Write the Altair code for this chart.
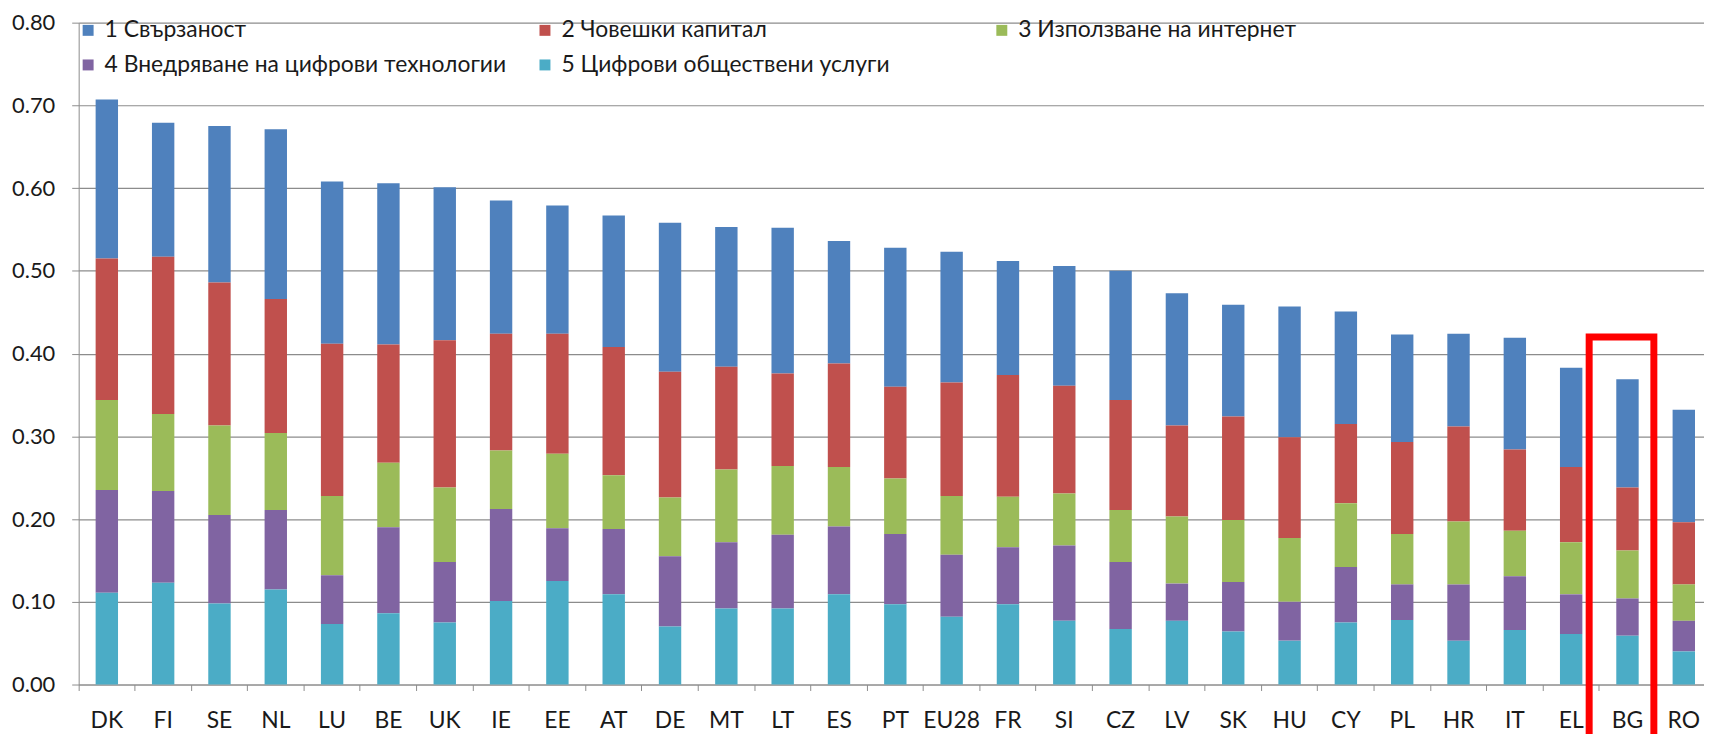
import altair as alt
import pandas as pd

countries = ["DK", "FI", "SE", "NL", "LU", "BE", "UK", "IE", "EE", "AT", "DE", "MT", "LT", "ES",
             "PT", "EU28", "FR", "SI", "CZ", "LV", "SK", "HU", "CY", "PL", "HR", "IT", "EL", "BG", "RO"]

series_names = ["1 Свързаност", "2 Човешки капитал", "3 Използване на интернет",
                "4 Внедряване на цифрови технологии", "5 Цифрови обществени услуги"]

connectivity = [0.192, 0.162, 0.189, 0.205, 0.196, 0.195, 0.185, 0.161, 0.155, 0.159, 0.180, 0.169, 0.176, 0.148,
                0.168, 0.158, 0.138, 0.145, 0.156, 0.160, 0.135, 0.158, 0.136, 0.130, 0.112, 0.135, 0.120, 0.131, 0.136]
human_capital = [0.171, 0.190, 0.173, 0.162, 0.184, 0.143, 0.178, 0.141, 0.145, 0.155, 0.152, 0.124, 0.112, 0.125,
                 0.111, 0.137, 0.147, 0.130, 0.133, 0.110, 0.125, 0.122, 0.096, 0.111, 0.115, 0.098, 0.091, 0.076, 0.075]
internet_use = [0.109, 0.093, 0.108, 0.093, 0.096, 0.078, 0.090, 0.071, 0.090, 0.065, 0.071, 0.088, 0.083, 0.072,
                0.067, 0.071, 0.061, 0.063, 0.063, 0.081, 0.075, 0.077, 0.077, 0.061, 0.076, 0.055, 0.063, 0.058, 0.044]
digital_tech = [0.124, 0.111, 0.107, 0.096, 0.059, 0.104, 0.073, 0.111, 0.064, 0.079, 0.085, 0.080, 0.089, 0.082,
                0.085, 0.075, 0.069, 0.091, 0.081, 0.045, 0.060, 0.047, 0.067, 0.043, 0.068, 0.065, 0.048, 0.045, 0.037]
public_services = [0.111, 0.123, 0.098, 0.115, 0.073, 0.086, 0.075, 0.101, 0.125, 0.109, 0.070, 0.092, 0.092, 0.109,
                   0.097, 0.082, 0.097, 0.077, 0.067, 0.077, 0.064, 0.053, 0.075, 0.078, 0.053, 0.066, 0.061, 0.059, 0.040]

series_colors = ["#4F81BD", "#C0504D", "#9BBB59", "#8064A2", "#4BACC6"]
y_tick_values = [0.0, 0.1, 0.2, 0.3, 0.4, 0.5, 0.6, 0.7, 0.8]

highlight_country = ["BG"]
highlight_top = [0.42]
highlight_bottom = [-0.075]

rows = []
for rank, (name, vals) in enumerate(zip(series_names,
                                         [connectivity, human_capital, internet_use, digital_tech, public_services]),
                                     start=1):
    for c, v in zip(countries, vals):
        rows.append({"country": c, "series": name, "rank": rank, "value": v})
df = pd.DataFrame(rows)
box_df = pd.DataFrame({"country": highlight_country, "top": highlight_top, "bottom": highlight_bottom})

FONT = "Lato"
TXT = "#1a1a1a"
GRAY = "#8c8c8c"

x_scale = alt.Scale(domain=countries, range=[0, 1641], paddingInner=0, paddingOuter=0)
y_scale = alt.Scale(domain=[0, 0.8], nice=False)

x_axis = alt.Axis(title=None, labelAngle=0, bandPosition=0, tickSize=6,
                  tickColor=GRAY, domainColor=GRAY, labelFont=FONT, labelFontSize=23,
                  labelColor=TXT, labelPadding=19, labelOverlap=False)
y_axis = alt.Axis(title=None, values=y_tick_values, format=".2f", grid=True, gridColor=GRAY,
                  gridWidth=1.2, tickSize=7, tickColor=GRAY, domainColor=GRAY, labelFont=FONT,
                  labelFontSize=22, labelColor=TXT, labelPadding=17)

bars = alt.Chart(df).mark_bar(width=22.5, strokeWidth=0).encode(
    x=alt.X("country:N", sort=None, scale=x_scale, axis=x_axis),
    y=alt.Y("value:Q", stack="zero", scale=y_scale, axis=y_axis),
    color=alt.Color("series:N", scale=alt.Scale(domain=series_names, range=series_colors),
                    legend=alt.Legend(title=None, orient="none", legendX=-2, legendY=-4,
                                      direction="horizontal", columns=3, gridAlign="all",
                                      columnPadding=27, rowPadding=11, symbolType="square",
                                      symbolSize=121, symbolStrokeWidth=0, labelFont=FONT,
                                      labelFontSize=23, labelColor=TXT, labelOffset=5,
                                      labelLimit=800, padding=0)),
    order=alt.Order("rank:Q", sort="descending"),
)

box = alt.Chart(box_df).mark_bar(width=65, xOffset=-6, fillOpacity=0, stroke="#FF0000",
                                 strokeWidth=7).encode(
    x=alt.X("country:N", sort=None, scale=x_scale, axis=x_axis),
    y=alt.Y("top:Q", scale=y_scale, axis=y_axis),
    y2="bottom:Q",
)

chart = alt.layer(bars, box).properties(
    width=1633, height=665,
    padding={"left": 71, "top": 13, "right": 0, "bottom": 48},
    autosize=alt.AutoSizeParams(type="none"),
).configure_view(stroke=None)

chart.save("out.html", embed_options={"renderer": "svg", "actions": False})
